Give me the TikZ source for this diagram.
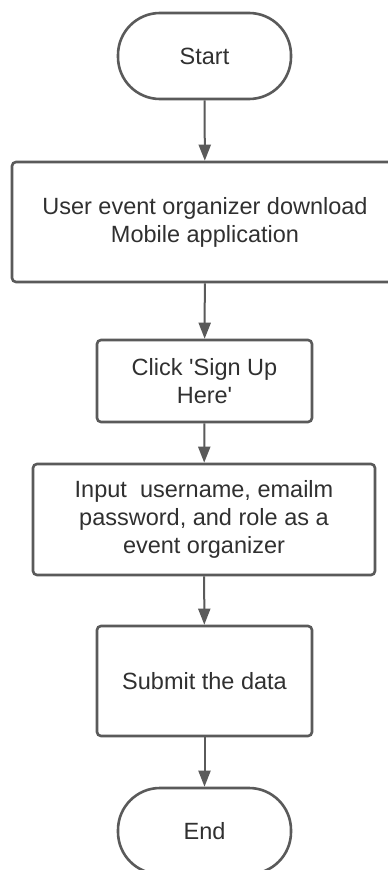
\documentclass[tikz,border=0pt]{standalone}
\usepackage{fontspec}
\setmainfont{Liberation Sans}
\usetikzlibrary{arrows.meta}
\definecolor{edgegray}{HTML}{5A5A5A}
\definecolor{inkgray}{HTML}{303030}
\begin{document}
\begin{tikzpicture}[x=1pt,y=-1pt,
  every node/.style={font=\fontsize{23.5}{28}\selectfont, text=inkgray, align=center, inner sep=0pt},
  procbox/.style={draw=edgegray, line width=2.6pt, rounded corners=4pt, fill=white},
  termbox/.style={draw=edgegray, line width=2.6pt, rounded corners=42pt, fill=white,
                  minimum width=173pt, minimum height=86pt},
  flow/.style={draw=edgegray, line width=2pt, -{Triangle[length=16pt,width=12pt]}}]
  \clip (0,0) rectangle (388,870);
  \fill[white] (0,0) rectangle (388,870);

  \node[termbox] (start) at (204.5,56) {Start};
  \node[procbox, minimum width=386pt, minimum height=120pt] (download) at (205,222)
    {User event organizer download\\Mobile application};
  \node[procbox, minimum width=215pt, minimum height=82pt] (signup) at (204.5,381)
    {Click \textquotesingle Sign Up\\Here\textquotesingle};
  \node[procbox, minimum width=342pt, minimum height=111pt] (input) at (204,519.5)
    {Input\ \ username, emailm\\password, and role as a\\event organizer};
  \node[procbox, minimum width=215pt, minimum height=110pt] (submit) at (204.5,681)
    {Submit the data};
  \node[termbox] (end) at (204.5,831) {End};

  \draw[flow] (start) -- (download);
  \draw[flow] (download) -- (signup);
  \draw[flow] (signup) -- (input);
  \draw[flow] (input) -- (submit);
  \draw[flow] (submit) -- (end);
\end{tikzpicture}
\end{document}
